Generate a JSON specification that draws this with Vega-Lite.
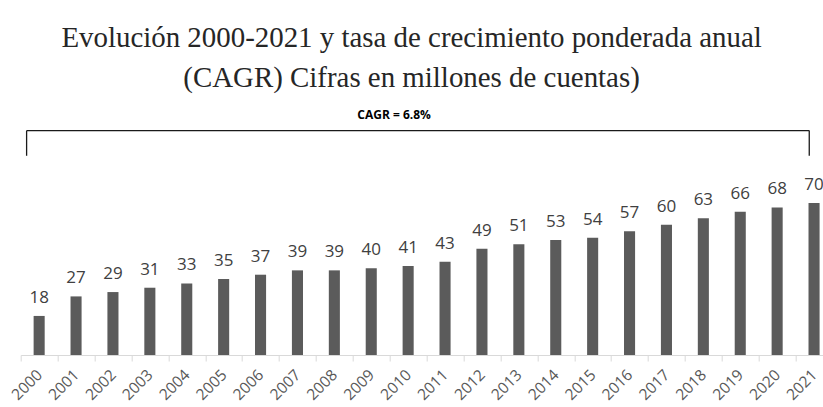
{
  "$schema": "https://vega.github.io/schema/vega-lite/v6.json",
  "width": 802.3,
  "height": 255,
  "autosize": {"type": "none"},
  "padding": {"left": 20.7, "top": 100, "right": 0, "bottom": 52},
  "background": "white",
  "config": {"view": {"stroke": null}},
  "title": {
    "text": ["Evolución 2000-2021 y tasa de crecimiento ponderada anual", "(CAGR) Cifras en millones de cuentas)"],
    "font": "Liberation Serif",
    "fontSize": 28.9,
    "fontWeight": "normal",
    "color": "#262626",
    "anchor": "middle",
    "frame": "group",
    "dx": -10.3,
    "lineHeight": 40,
    "offset": 7
  },
  "datasets": {
    "bars": [
      {"year": "2000", "value": 18},
      {"year": "2001", "value": 27},
      {"year": "2002", "value": 29},
      {"year": "2003", "value": 31},
      {"year": "2004", "value": 33},
      {"year": "2005", "value": 35},
      {"year": "2006", "value": 37},
      {"year": "2007", "value": 39},
      {"year": "2008", "value": 39},
      {"year": "2009", "value": 40},
      {"year": "2010", "value": 41},
      {"year": "2011", "value": 43},
      {"year": "2012", "value": 49},
      {"year": "2013", "value": 51},
      {"year": "2014", "value": 53},
      {"year": "2015", "value": 54},
      {"year": "2016", "value": 57},
      {"year": "2017", "value": 60},
      {"year": "2018", "value": 63},
      {"year": "2019", "value": 66},
      {"year": "2020", "value": 68},
      {"year": "2021", "value": 70}
    ],
    "cagr": [
      {"from": "2000", "to": "2021", "mid": "2010", "label": "CAGR = 6.8%"}
    ]
  },
  "layer": [
    {
      "data": {"name": "bars"},
      "mark": {"type": "bar", "color": "#5b5b5b", "width": {"band": 0.3}},
      "encoding": {
        "x": {
          "field": "year",
          "type": "ordinal",
          "scale": {"paddingInner": 0, "paddingOuter": 0, "range": [0, 811.8]},
          "axis": {
            "title": null,
            "tickBand": "extent",
            "labelAngle": -45,
            "labelAlign": "right",
            "labelBaseline": "middle",
            "labelFont": "Open Sans",
            "labelFontSize": 15.5,
            "labelColor": "#595959",
            "labelPadding": 11,
            "labelOverlap": false,
            "domainColor": "#d9d9d9",
            "tickColor": "#d9d9d9",
            "tickSize": 6,
            "grid": false
          }
        },
        "y": {
          "field": "value",
          "type": "quantitative",
          "scale": {"domain": [0, 117.5], "nice": false, "zero": true},
          "axis": null
        }
      }
    },
    {
      "data": {"name": "bars"},
      "mark": {"type": "text", "font": "Open Sans", "fontSize": 17, "color": "#404040", "baseline": "alphabetic", "dy": -13},
      "encoding": {
        "x": {"field": "year", "type": "ordinal"},
        "y": {"field": "value", "type": "quantitative"},
        "text": {"field": "value", "type": "quantitative"}
      }
    },
    {
      "data": {"name": "cagr"},
      "mark": {"type": "rule", "color": "#1a1a1a", "strokeWidth": 1.3},
      "encoding": {
        "x": {"field": "from", "type": "ordinal", "bandPosition": 0.16},
        "x2": {"field": "to", "bandPosition": 0.37},
        "y": {"datum": 103.4, "type": "quantitative"}
      }
    },
    {
      "data": {"name": "cagr"},
      "mark": {"type": "rule", "color": "#1a1a1a", "strokeWidth": 1.3},
      "encoding": {
        "x": {"field": "from", "type": "ordinal", "bandPosition": 0.16},
        "y": {"datum": 103.4, "type": "quantitative"},
        "y2": {"datum": 91.8}
      }
    },
    {
      "data": {"name": "cagr"},
      "mark": {"type": "rule", "color": "#1a1a1a", "strokeWidth": 1.3},
      "encoding": {
        "x": {"field": "to", "type": "ordinal", "bandPosition": 0.37},
        "y": {"datum": 103.4, "type": "quantitative"},
        "y2": {"datum": 91.8}
      }
    },
    {
      "data": {"name": "cagr"},
      "mark": {"type": "text", "font": "Open Sans", "fontSize": 12, "fontWeight": "bold", "color": "#000000", "baseline": "middle", "align": "center"},
      "encoding": {
        "x": {"field": "mid", "type": "ordinal", "bandPosition": 0.12},
        "y": {"datum": 110.6, "type": "quantitative"},
        "text": {"field": "label"}
      }
    }
  ]
}
